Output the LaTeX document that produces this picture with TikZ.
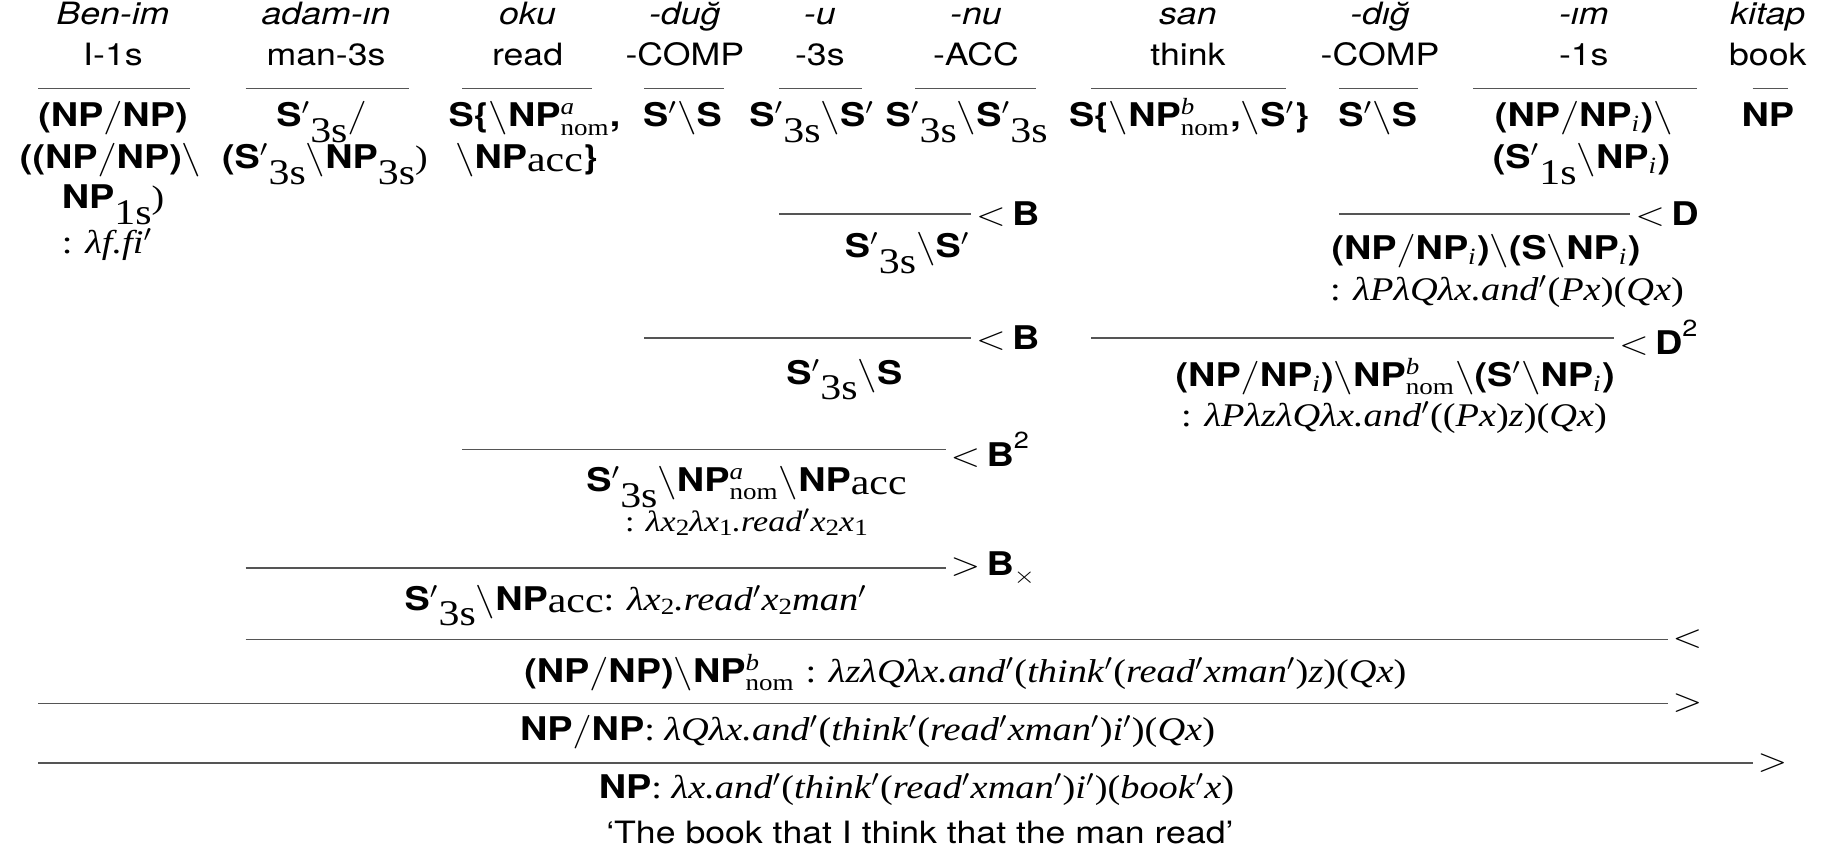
\documentclass[tikz,border=0pt]{standalone}
\usepackage{fontspec}
\setmainfont{TeX Gyre Heros}
\newfontfamily\tms{Liberation Serif}
\definecolor{rulegray}{HTML}{555555}
% category building blocks
\newcommand\bsl{$\backslash$}
\newcommand\fsl{$/$}
\newcommand\pp{$'$}
\newcommand\cS{\textbf{S}}
\newcommand\cNP{\textbf{NP}}
\newcommand\Sp{\textbf{S}$'$}
\newcommand\lsub[1]{\raisebox{-0.48em}[0pt][0pt]{\tms\fontsize{15.5}{15.5}\selectfont #1}}
\newcommand\acc{\raisebox{-0.08em}{\tms\fontsize{15.5}{15.5}\selectfont acc}}
\newcommand\nom[1]{$^{\mbox{\tms\itshape\fontsize{10}{10}\selectfont #1}}_{\mbox{\tms\fontsize{10}{10}\selectfont nom}}$}
\newcommand\isub{$_{\mbox{\tms\itshape\fontsize{10}{10}\selectfont i}}$}
\newcommand\dsub[1]{\raisebox{-0.3ex}{\fontsize{10}{10}\selectfont #1}}
\newcommand\ti[1]{\textit{#1}}
\newcommand\semf{\tms\fontsize{14.2}{16}\selectfont}
\tikzset{
  every node/.style={inner sep=0pt,xscale=1.16,font=\fontsize{13.2}{15}\selectfont},
  word/.style={anchor=base,font=\fontsize{13.2}{15}\selectfont\itshape},
  gloss/.style={anchor=base},
  cat/.style={anchor=base,font=\fontsize{14}{16}\selectfont},
  sem/.style={anchor=base,font=\semf},
  rule/.style={draw=rulegray,line width=0.7pt},
  lbl/.style={anchor=west,xshift=1.5pt,font=\fontsize{14}{16}\selectfont},
}
\begin{document}
\begin{tikzpicture}[x=0.5pt,y=-0.5pt]
\useasboundingbox (0,0) rectangle (1568,735);

% words and glosses
\foreach \nm/\xx/\wrd/\gls in {1/97/Ben-im/I-1s, 2/280/adam-ın/man-3s, 3/453/oku/read,
  4/588/-duğ/-COMP, 5/704/-u/-3s, 6/838/-nu/-ACC, 7/1020/san/think,
  8/1185/-dığ/-COMP, 9/1360/-ım/-1s, 10/1518/kitap/book}{
  \node[word] (w\nm) at (\xx,21) {\wrd};
  \node[gloss] (g\nm) at (\xx,56) {\gls};
}

% lexical rules
\foreach \nm/\xa/\xb in {1/33/163, 2/211/351, 3/397/508, 4/553/622, 5/669/740,
  6/786/890, 7/937/1104, 8/1150/1218, 9/1265/1457, 10/1505/1535}{
  \coordinate (la\nm) at (\xa,76);
  \coordinate (lb\nm) at (\xb,76);
  \draw[rule] (la\nm) -- (lb\nm);
}

% lexical categories
\node[cat] (c1a) at (97,109) {\textbf{(NP}\fsl\textbf{NP)}};
\node[cat] (c1b) at (95,145) {\textbf{((NP}\fsl\textbf{NP)}\bsl};
\node[cat] (c1c) at (97,179) {\cNP\lsub{1s}{\tms )}};
\node[sem] (c1d) at (92,218) {: \ti{λf.fi}\pp};

\node[cat] (c2a) at (276,109) {\Sp\lsub{3s}\fsl};
\node[cat] (c2b) at (279,145) {\textbf{(}\Sp\lsub{3s}\bsl\cNP\lsub{3s}{\tms )}};

\node[cat] (c3a) at (459,109) {\textbf{S\{}\bsl\cNP\nom{a}\textbf{,}};
\node[cat] (c3b) at (452,145) {\bsl\cNP\acc\textbf{\}}};

\node[cat] (c4) at (586,109) {\Sp\bsl\cS};
\node[cat] (c5) at (697,109) {\Sp\lsub{3s}\bsl\Sp};
\node[cat] (c6) at (830,109) {\Sp\lsub{3s}\bsl\Sp\lsub{3s}};
\node[cat] (c7) at (1021,109) {\textbf{S\{}\bsl\cNP\nom{b}\textbf{,}\bsl\Sp\textbf{\}}};
\node[cat] (c8) at (1183,109) {\Sp\bsl\cS};
\node[cat] (c9a) at (1360,109) {\textbf{(NP}\fsl\cNP\isub\textbf{)}\bsl};
\node[cat] (c9b) at (1358,145) {\textbf{(}\Sp\lsub{1s}\bsl\cNP\isub\textbf{)}};
\node[cat] (c10) at (1518,109) {\cNP};

% -u -nu  <B
\coordinate (d1a) at (669,184); \coordinate (d1b) at (834,184);
\draw[rule] (d1a) -- (d1b) node[lbl] (t1) {$<$\,\textbf{B}};
\node[cat] (r1) at (779,221) {\Sp\lsub{3s}\bsl\Sp};

% -dig -im  <D
\coordinate (d2a) at (1150,184); \coordinate (d2b) at (1400,184);
\draw[rule] (d2a) -- (d2b) node[lbl] (t2) {$<$\,\textbf{D}};
\node[cat] (r2) at (1276,223) {\textbf{(NP}\fsl\cNP\isub\textbf{)}\bsl\textbf{(S}\bsl\cNP\isub\textbf{)}};
\node[sem] (s2) at (1294,258) {: \ti{λPλQλx.and}\pp(\ti{Px})(\ti{Qx})};

% -dug  <B
\coordinate (d3a) at (553,290); \coordinate (d3b) at (834,290);
\draw[rule] (d3a) -- (d3b) node[lbl] (t3) {$<$\,\textbf{B}};
\node[cat] (r3) at (725,330) {\Sp\lsub{3s}\bsl\cS};

% san  <D2
\coordinate (d4a) at (937,290); \coordinate (d4b) at (1386,290);
\draw[rule] (d4a) -- (d4b) node[lbl] (t4) {$<$\,\textbf{D}\raisebox{0.55em}{\fontsize{10}{10}\selectfont 2}};
\node[cat] (r4) at (1198,332) {\textbf{(NP}\fsl\cNP\isub\textbf{)}\bsl\cNP\nom{b}\bsl\textbf{(}\Sp\bsl\cNP\isub\textbf{)}};
\node[sem] (s4) at (1197,366) {: \ti{λPλzλQλx.and}\pp((\ti{Px})\ti{z})(\ti{Qx})};

% oku  <B2
\coordinate (d5a) at (397,386); \coordinate (d5b) at (812,386);
\draw[rule] (d5a) -- (d5b) node[lbl] (t5) {$<$\,\textbf{B}\raisebox{0.55em}{\fontsize{10}{10}\selectfont 2}};
\node[cat] (r5) at (641,422) {\Sp\lsub{3s}\bsl\cNP\nom{a}\bsl\cNP\acc};
\node[sem,font=\tms\fontsize{12.6}{14}\selectfont] (s5) at (641,456) {: \ti{λx}\dsub{2}\ti{λx}\dsub{1}\ti{.read}\pp\ti{x}\dsub{2}\ti{x}\dsub{1}};

% adam-in  >Bx
\coordinate (d6a) at (211,488); \coordinate (d6b) at (812,488);
\draw[rule] (d6a) -- (d6b) node[lbl] (t6) {$>$\,\textbf{B}\raisebox{-0.25em}{$\scriptstyle\times$}};
\node[cat] (r6) at (546,524) {\Sp\lsub{3s}\bsl\cNP\acc{\semf : \ti{λx}\dsub{2}\ti{.read}\pp\ti{x}\dsub{2}\ti{man}\pp}};

% <
\coordinate (d7a) at (211,549); \coordinate (d7b) at (1432,549);
\draw[rule] (d7a) -- (d7b) node[lbl] (t7) {$<$};
\node[cat] (r7) at (829,586) {\textbf{(NP}\fsl\textbf{NP)}\bsl\cNP\nom{b} {\semf : \ti{λzλQλx.and}\pp(\ti{think}\pp(\ti{read}\pp\ti{xman}\pp)\ti{z})(\ti{Qx})}};

% Ben-im  >
\coordinate (d8a) at (33,604); \coordinate (d8b) at (1432,604);
\draw[rule] (d8a) -- (d8b) node[lbl] (t8) {$>$};
\node[cat] (r8) at (745,636) {\cNP\fsl\cNP{\semf : \ti{λQλx.and}\pp(\ti{think}\pp(\ti{read}\pp\ti{xman}\pp)\ti{i}\pp)(\ti{Qx})}};

% kitap  >
\coordinate (d9a) at (33,655); \coordinate (d9b) at (1505,655);
\draw[rule] (d9a) -- (d9b) node[lbl] (t9) {$>$};
\node[cat] (r9) at (787,686) {\cNP{\semf : \ti{λx.and}\pp(\ti{think}\pp(\ti{read}\pp\ti{xman}\pp)\ti{i}\pp)(\ti{book}\pp\ti{x})}};

\node[gloss] (tr) at (790,724) {‘The book that I think that the man read’};
\end{tikzpicture}
\end{document}
